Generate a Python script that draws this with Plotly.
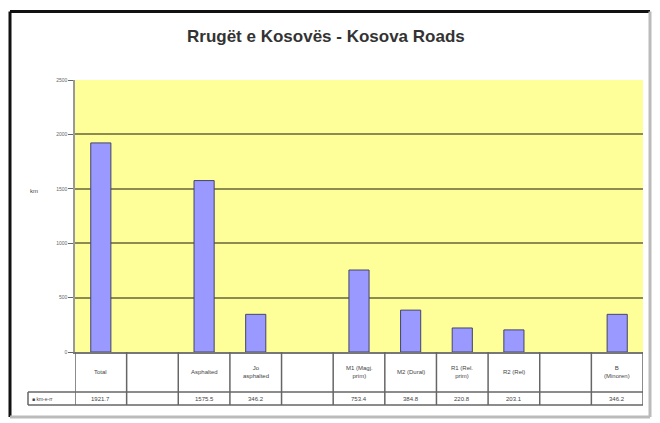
import plotly.graph_objects as go

categories = ["Total", "", "Asphalted", "Jo<br>asphalted", "", "M1 (Magj.<br>prim)",
              "M2 (Dural)", "R1 (Rel.<br>prim)", "R2 (Rel)", "", "B<br>(Minoren)"]
values = [1921.7, None, 1575.5, 346.2, None, 753.4, 384.8, 220.8, 203.1, None, 346.2]
value_labels = ["1921.7", "", "1575.5", "346.2", "", "753.4", "384.8", "220.8", "203.1", "", "346.2"]
y_ticks = [0, 500, 1000, 1500, 2000, 2500]
legend_label = "■ km-e-rr"
title = "Rrugët e Kosovës - Kosova Roads"

OFF = 8  # page body margin
W, H = 652, 415
L, R, T, B = 75 - OFF, 17, 80 - OFF, 71
pw, ph = W - L - R, H - T - B

def px2x(px):
    return (px - OFF - L) / pw

def py2y(py):
    return (H - B - (py - OFF)) / ph

xs = list(range(len(categories)))

fig = go.Figure()
fig.add_trace(go.Bar(
    x=xs, y=values, width=0.39,
    marker=dict(color="#9999FF", line=dict(color="#444466", width=1)),
    hoverinfo="skip", showlegend=False,
))

shapes = []
line_c = "#666"
y_row1_bot = py2y(392)
y_row2_bot = py2y(405)
for i in range(len(categories) + 1):
    shapes.append(dict(type="line", xref="x", yref="paper", x0=i - 0.5, x1=i - 0.5,
                       y0=0, y1=y_row2_bot, line=dict(color=line_c, width=1.5)))
shapes.append(dict(type="line", xref="paper", yref="paper", x0=px2x(28), x1=1,
                   y0=y_row1_bot, y1=y_row1_bot, line=dict(color=line_c, width=1.5)))
shapes.append(dict(type="line", xref="paper", yref="paper", x0=px2x(28), x1=1,
                   y0=y_row2_bot, y1=y_row2_bot, line=dict(color=line_c, width=1.5)))
shapes.append(dict(type="line", xref="paper", yref="paper", x0=px2x(28), x1=px2x(28),
                   y0=y_row1_bot, y1=y_row2_bot, line=dict(color=line_c, width=1.5)))
# window frame: dark top/left, light grey bottom/right
fx0, fx1, fy0, fy1 = px2x(10), px2x(650), py2y(417), py2y(11.5)
shapes.append(dict(type="line", xref="paper", yref="paper", x0=fx0, x1=fx1, y0=fy1, y1=fy1,
                   line=dict(color="#111", width=3)))
shapes.append(dict(type="line", xref="paper", yref="paper", x0=fx0, x1=fx0, y0=fy0, y1=fy1,
                   line=dict(color="#111", width=3)))
shapes.append(dict(type="line", xref="paper", yref="paper", x0=fx1, x1=fx1, y0=fy0, y1=fy1,
                   line=dict(color="#bbb", width=3)))
shapes.append(dict(type="line", xref="paper", yref="paper", x0=fx0, x1=fx1, y0=fy0, y1=fy0,
                   line=dict(color="#bbb", width=3)))

annotations = []
for i, (c, v) in enumerate(zip(categories, value_labels)):
    if c:
        annotations.append(dict(x=i, y=(0 + y_row1_bot) / 2, xref="x", yref="paper",
                                text=c, showarrow=False, font=dict(size=6, color="#444"),
                                xanchor="center", yanchor="middle"))
    if v:
        annotations.append(dict(x=i, y=(y_row1_bot + y_row2_bot) / 2, xref="x", yref="paper",
                                text=v, showarrow=False, font=dict(size=6, color="#444"),
                                xanchor="center", yanchor="middle"))
annotations.append(dict(x=px2x(30), y=(y_row1_bot + y_row2_bot) / 2, xref="paper", yref="paper",
                        text=legend_label, showarrow=False, font=dict(size=5, color="#444"),
                        xanchor="left", yanchor="middle"))
annotations.append(dict(x=px2x(34), y=py2y(191), xref="paper", yref="paper",
                        text="km", showarrow=False, font=dict(size=6, color="#444"),
                        xanchor="center", yanchor="middle"))
annotations.append(dict(x=px2x(326), y=py2y(37), xref="paper", yref="paper",
                        text="<b>" + title + "</b>", showarrow=False,
                        font=dict(size=17, color="#333", family="Arial, Liberation Sans, sans-serif"),
                        xanchor="center", yanchor="middle"))

fig.update_layout(
    width=W, height=H,
    margin=dict(l=L, r=R, t=T, b=B),
    paper_bgcolor="white",
    plot_bgcolor="#FFFF99",
    font=dict(family="Arial, Liberation Sans, sans-serif"),
    shapes=shapes,
    annotations=annotations,
    xaxis=dict(range=[-0.5, len(categories) - 0.5], showticklabels=False, ticks="",
               showgrid=False, zeroline=False, showline=True, linecolor="#777", linewidth=1.5,
               fixedrange=True),
    yaxis=dict(range=[0, 2500], tickvals=y_ticks, ticktext=[str(t) for t in y_ticks],
               tickfont=dict(size=5, color="#666"), ticks="outside", ticklen=5,
               tickcolor="#666", showgrid=True, gridcolor="#8C8C50", gridwidth=1.5,
               zeroline=False, showline=True, linecolor="#999", linewidth=1.5, mirror=False),
    bargap=0.6,
)

fig.write_html("out.html")
